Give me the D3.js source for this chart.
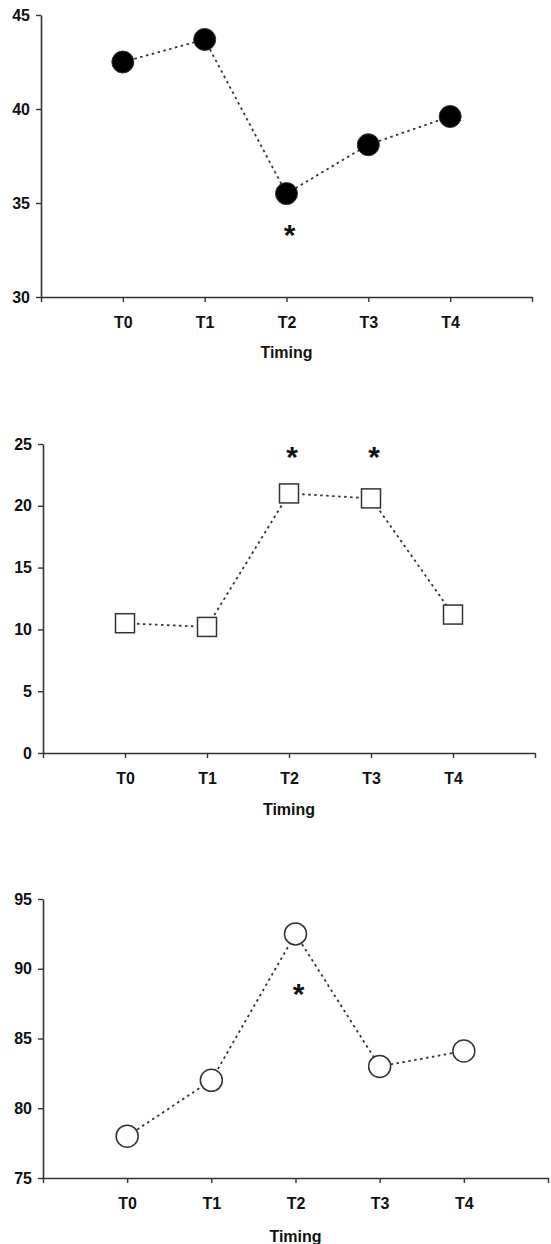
<!DOCTYPE html>
<html>
<head>
<meta charset="utf-8">
<script src="https://cdn.jsdelivr.net/npm/d3@7"></script>
<style>
  body { margin: 0; background: #fff; }
  svg { display: block; font-family: "Liberation Sans", Arial, sans-serif; }
</style>
</head>
<body>
<svg id="chart" width="551" height="1244"></svg>
<script>
// categories on the x axis
var cats = ["T0", "T1", "T2", "T3", "T4"];

// values
var scoreA = [42.5, 43.7, 35.5, 38.1, 39.6];
var scoreB = [10.5, 10.2, 21.0, 20.6, 11.2];
var scoreC = [78.0, 82.0, 92.5, 83.0, 84.1];

// y ticks per panel
var ticksA = [30, 35, 40, 45];
var ticksB = [0, 5, 10, 15, 20, 25];
var ticksC = [75, 80, 85, 90, 95];

// significance marks (category, value where the star sits)
var starsA = [{cat: "T2", v: 33.6}];
var starsB = [{cat: "T2", v: 24.4}, {cat: "T3", v: 24.4}];
var starsC = [{cat: "T2", v: 88.6}];

var svg = d3.select("#chart");

// layout of each panel
var panels = [
  {vals: scoreA, ticks: ticksA, stars: starsA, marker: "dot",
   left: 41, right: 532, top: 15, bottom: 297, title: 61},
  {vals: scoreB, ticks: ticksB, stars: starsB, marker: "square",
   left: 43, right: 535, top: 444, bottom: 753, title: 62},
  {vals: scoreC, ticks: ticksC, stars: starsC, marker: "ring",
   left: 43, right: 548, top: 899, bottom: 1178, title: 64}
];

panels.forEach(function(p) {
  var g = svg.append("g");

  // index scale: 0 and 6 are the empty slots at both ends
  var x = d3.scaleLinear().domain([0, cats.length + 1]).range([p.left, p.right]);
  var y = d3.scaleLinear().domain([p.ticks[0], p.ticks[p.ticks.length - 1]])
    .range([p.bottom, p.top]);
  var xi = function(c) { return x(cats.indexOf(c) + 1); };

  // y axis
  var ya = g.append("g")
    .attr("transform", "translate(" + p.left + ",0)")
    .call(d3.axisLeft(y).tickValues(p.ticks).tickSize(5).tickPadding(6).tickSizeOuter(0));

  // x axis
  var xa = g.append("g")
    .attr("transform", "translate(0," + p.bottom + ")")
    .call(d3.axisBottom(x)
      .tickValues(d3.range(0, cats.length + 2))
      .tickFormat(function(i) { return cats[i - 1] || ""; })
      .tickSize(5).tickPadding(15).tickSizeOuter(0));

  [ya, xa].forEach(function(a) {
    a.select(".domain").attr("stroke", "#333").attr("stroke-width", 1.6);
    a.selectAll(".tick line").attr("stroke", "#333").attr("stroke-width", 1.4);
    a.selectAll("text")
      .attr("fill", "#111")
      .style("font-size", "16px")
      .style("font-weight", "bold");
  });

  // axis title
  g.append("text")
    .attr("x", xi("T2"))
    .attr("y", p.bottom + p.title)
    .attr("text-anchor", "middle")
    .style("font-size", "16px")
    .style("font-weight", "bold")
    .attr("fill", "#111")
    .text("Timing");

  // dotted connecting line
  var line = d3.line()
    .x(function(d, i) { return x(i + 1); })
    .y(function(d) { return y(d); });

  g.append("path")
    .datum(p.vals)
    .attr("d", line)
    .attr("fill", "none")
    .attr("stroke", "#333")
    .attr("stroke-width", 1.8)
    .attr("stroke-dasharray", "2.5,3.5");

  // markers
  if (p.marker === "dot") {
    g.selectAll("circle.m").data(p.vals).enter().append("circle")
      .attr("class", "m")
      .attr("cx", function(d, i) { return x(i + 1); })
      .attr("cy", function(d) { return y(d); })
      .attr("r", 11)
      .attr("fill", "#000")
      .attr("stroke", "#333")
      .attr("stroke-width", 1);
  } else if (p.marker === "square") {
    g.selectAll("rect.m").data(p.vals).enter().append("rect")
      .attr("class", "m")
      .attr("x", function(d, i) { return x(i + 1) - 9.5; })
      .attr("y", function(d) { return y(d) - 9.5; })
      .attr("width", 19)
      .attr("height", 19)
      .attr("fill", "#fff")
      .attr("stroke", "#333")
      .attr("stroke-width", 1.5);
  } else {
    g.selectAll("circle.m").data(p.vals).enter().append("circle")
      .attr("class", "m")
      .attr("cx", function(d, i) { return x(i + 1); })
      .attr("cy", function(d) { return y(d); })
      .attr("r", 11)
      .attr("fill", "#fff")
      .attr("stroke", "#333")
      .attr("stroke-width", 1.5);
  }

  // stars
  g.selectAll("text.star").data(p.stars).enter().append("text")
    .attr("class", "star")
    .attr("x", function(d) { return xi(d.cat) + 3; })
    .attr("y", function(d) { return y(d.v) + 16; })
    .attr("text-anchor", "middle")
    .style("font-size", "30px")
    .style("font-weight", "bold")
    .attr("fill", "#111")
    .text("*");
});
</script>
</body>
</html>
